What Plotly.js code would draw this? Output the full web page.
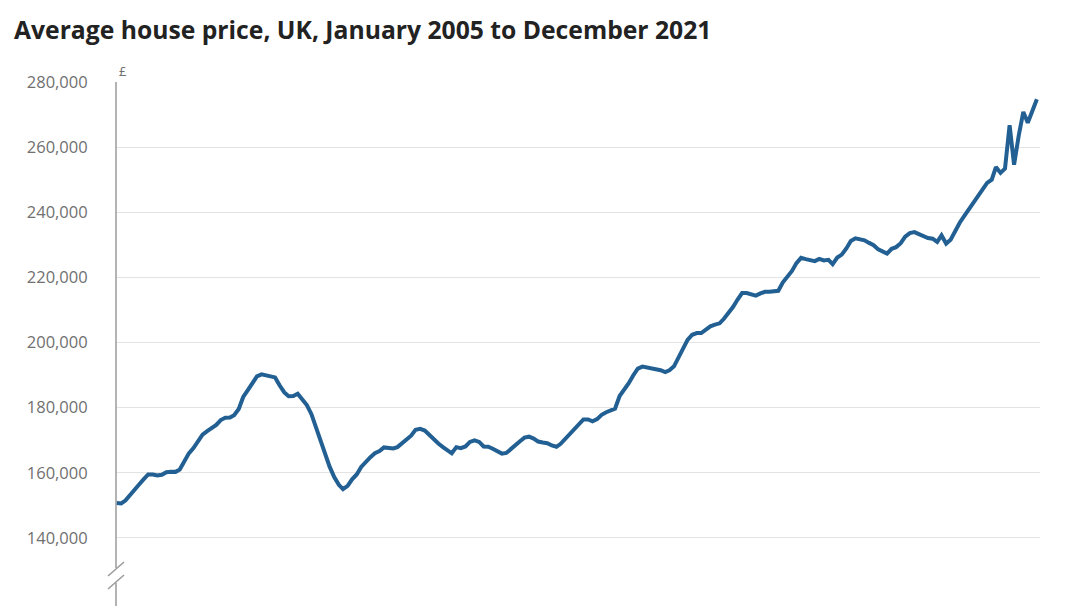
<!DOCTYPE html>
<html>
<head>
<meta charset="utf-8">
<script src="https://cdn.plot.ly/plotly-3.0.1.min.js"></script>
<style>
  html, body { margin: 0; padding: 0; background: #ffffff; }
  #chart { width: 1080px; height: 606px; }
</style>
</head>
<body>
<div id="chart"></div>
<script>
// Average house price, UK (£), monthly, Jan..Dec of each year
const y2005 = [150770, 150600, 151500, 153300, 154900, 156400, 158000, 159500, 159500, 159200, 159400, 160200];
const y2006 = [160350, 160300, 161000, 163500, 166000, 167600, 169500, 171700, 172800, 173700, 174700, 176200];
const y2007 = [176900, 177000, 177700, 179600, 183300, 185400, 187500, 189600, 190250, 190000, 189700, 189300];
const y2008 = [186800, 184700, 183500, 183600, 184300, 182700, 180800, 178000, 173900, 169700, 166000, 161900];
const y2009 = [158700, 156300, 155000, 156000, 158000, 159500, 161800, 163400, 164800, 166000, 166700, 167800];
const y2010 = [167600, 167500, 167900, 169200, 170400, 171400, 173200, 173500, 173000, 171700, 170000, 169000];
const y2011 = [167900, 166900, 166000, 167900, 167600, 168100, 169500, 170000, 169500, 168100, 168000, 167400];
const y2012 = [166500, 165900, 166100, 167400, 168600, 169700, 170800, 171100, 170500, 169600, 169300, 169100];
const y2013 = [168400, 168000, 168900, 170500, 171600, 173200, 174800, 176400, 176400, 175800, 176500, 177800];
const y2014 = [178600, 179100, 179700, 183600, 185500, 187500, 189900, 192000, 192600, 192400, 191900, 191800];
const y2015 = [191500, 190950, 191500, 192700, 195300, 197800, 200800, 202400, 202900, 202900, 204100, 205000];
const y2016 = [205500, 205900, 207300, 208900, 210900, 213200, 215200, 215200, 214800, 214400, 215100, 215600];
const y2017 = [215600, 215700, 215900, 218500, 220000, 222000, 224400, 226000, 225600, 225400, 225000, 225700];
const y2018 = [225200, 225400, 224100, 226100, 227000, 228900, 231200, 232000, 231700, 231400, 230600, 229900];
const y2019 = [228600, 227900, 227300, 228800, 229300, 230500, 232500, 233600, 233900, 233300, 232700, 232100];
const y2020 = [231900, 230900, 232900, 230400, 231600, 234400, 236800, 238900, 241000, 243100, 245200, 247200];
const y2021 = [249000, 250000, 253900, 252100, 253400, 266700, 254600, 263500, 270800, 267500, 271500, 274700];

const years = [2005, 2006, 2007, 2008, 2009, 2010, 2011, 2012, 2013, 2014, 2015, 2016, 2017, 2018, 2019, 2020, 2021];
const yearValues = [y2005, y2006, y2007, y2008, y2009, y2010, y2011, y2012, y2013, y2014, y2015, y2016, y2017, y2018, y2019, y2020, y2021];

const tickValues = [140000, 160000, 180000, 200000, 220000, 240000, 260000, 280000];
const tickLabels = ["140,000", "160,000", "180,000", "200,000", "220,000", "240,000", "260,000", "280,000"];

const titleText = "Average house price, UK, January 2005 to December 2021";
const unitLabel = "£";

// build monthly dates / prices
const dates = [];
const prices = [];
years.forEach((yr, k) => {
  yearValues[k].forEach((v, m) => {
    dates.push(yr + "-" + String(m + 1).padStart(2, "0") + "-01");
    prices.push(v);
  });
});

// page geometry helpers (pixel -> paper)
const W = 1080, H = 606;
const L = 116, R = 1040, T = 82, B = 606;
const pxX = x => (x - L) / (R - L);
const pxY = y => (B - y) / (B - T);

const axisColor = "#9a9a9a";

const trace = {
  x: dates,
  y: prices,
  type: "scatter",
  mode: "lines",
  line: { color: "#225f92", width: 4, shape: "linear" },
  hoverinfo: "x+y"
};

const layout = {
  width: W,
  height: H,
  paper_bgcolor: "#ffffff",
  plot_bgcolor: "#ffffff",
  margin: { l: L, r: W - R, t: T, b: 0, pad: 0 },
  showlegend: false,
  font: { family: "Open Sans, Liberation Sans, sans-serif", color: "#707070" },
  title: {
    text: "<b>" + titleText + "</b>",
    font: { family: "Open Sans, sans-serif", size: 24.7, color: "#222222" },
    xref: "container", yref: "container",
    x: 14 / W, xanchor: "left",
    y: 1 - 30 / H, yanchor: "middle"
  },
  xaxis: {
    type: "date",
    range: ["2004-12-28", "2021-12-22"],
    visible: false,
    fixedrange: true
  },
  yaxis: {
    range: [119116, 280000],
    tickvals: tickValues,
    ticktext: tickLabels,
    tickfont: { family: "Open Sans, sans-serif", size: 16.5, color: "#707070" },
    ticks: "outside",
    ticklen: 24,
    tickcolor: "rgba(0,0,0,0)",
    showgrid: true,
    gridcolor: "#e3e3e3",
    gridwidth: 1,
    zeroline: false,
    showline: false,
    fixedrange: true
  },
  shapes: [
    // y axis line (upper part, above break)
    { type: "line", xref: "paper", yref: "paper", x0: 0, x1: 0, y0: pxY(82), y1: pxY(568),
      line: { color: axisColor, width: 1.5 } },
    // y axis line (lower part, below break)
    { type: "line", xref: "paper", yref: "paper", x0: 0, x1: 0, y0: pxY(583), y1: pxY(606),
      line: { color: axisColor, width: 1.5 } },
    // break marks
    { type: "line", xref: "paper", yref: "paper", x0: pxX(108), x1: pxX(124), y0: pxY(576), y1: pxY(562),
      line: { color: axisColor, width: 1.5 } },
    { type: "line", xref: "paper", yref: "paper", x0: pxX(108), x1: pxX(124), y0: pxY(589), y1: pxY(575),
      line: { color: axisColor, width: 1.5 } }
  ],
  annotations: [
    { text: unitLabel, xref: "paper", yref: "paper", x: pxX(117), y: pxY(71),
      xanchor: "left", yanchor: "middle", showarrow: false,
      font: { family: "Open Sans, sans-serif", size: 13, color: "#707070" } }
  ]
};

Plotly.newPlot("chart", [trace], layout, { displayModeBar: false, staticPlot: true });
</script>
</body>
</html>
